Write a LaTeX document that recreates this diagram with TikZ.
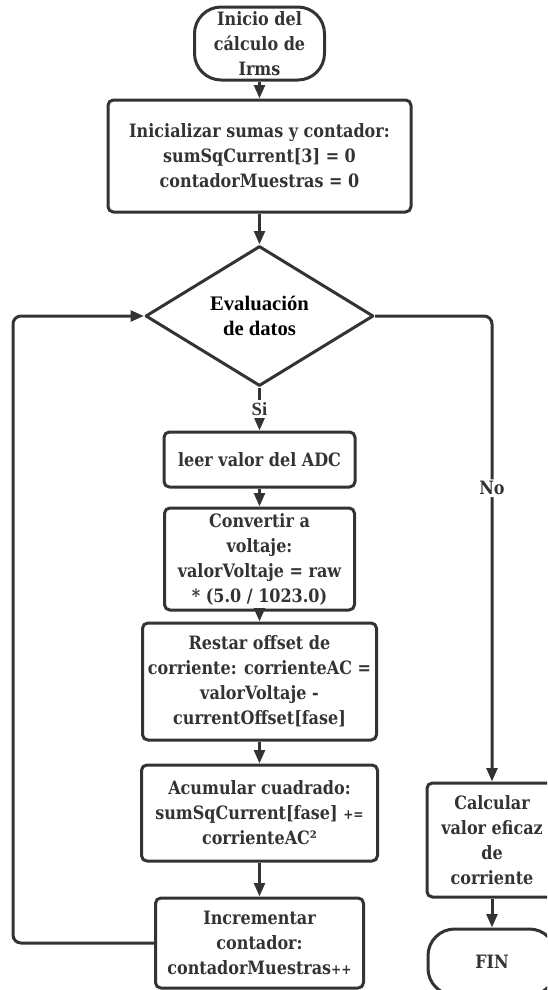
\documentclass[tikz,border=0pt]{standalone}
\usepackage{fontspec}
\setmainfont{DejaVu Serif}[FakeStretch=0.87]
\newfontfamily\timesfam{Liberation Serif}
\usetikzlibrary{arrows.meta,shapes.geometric}
\definecolor{ink}{HTML}{333333}
\newcommand\pxl{0.75pt}
\newcommand\smallop[1]{{\fontsize{10.5}{18.75}\selectfont #1}}

\begin{document}
\begin{tikzpicture}[x=0.75pt,y=-0.75pt,
  every node/.style={font=\bfseries\fontsize{13.8}{18.75}\selectfont, text=ink},
  procbox/.style={draw=ink, line width=2.25pt, rounded corners=4pt, align=center,
                  inner sep=0pt, fill=white, line join=round},
  termbox/.style={draw=ink, line width=2.25pt, rounded corners=20pt, align=center,
                  inner sep=0pt, fill=white},
  decision/.style={draw=ink, line width=2.25pt, shape=diamond, aspect=1.6, align=center,
                   inner sep=0pt, line join=round, fill=white,
                   font=\timesfam\bfseries\fontsize{15.5}{18.75}\selectfont, text=black},
  flow/.style={draw=ink, line width=2.25pt, -{Triangle[length=10pt,width=8pt]}},
  branchlabel/.style={fill=white, inner sep=1.5pt}
]
\useasboundingbox (0,0) rectangle (547,990);
\clip (0,0) rectangle (547,990);

% main column
\node[termbox, minimum width=130*\pxl, minimum height=73*\pxl] (start) at (259.5,43.5)
  {Inicio del\\cálculo de\\Irms};
\node[procbox, minimum width=303*\pxl, minimum height=112*\pxl] (init) at (259.5,156)
  {Inicializar sumas y contador:\\sumSqCurrent[3] = 0\\contadorMuestras = 0};
\node[decision, minimum width=228*\pxl, minimum height=140*\pxl] (eval) at (259.5,316)
  {Evaluación\\de datos};
\node[procbox, minimum width=191*\pxl, minimum height=55*\pxl] (leer) at (259.5,459.5)
  {leer valor del ADC};
\node[procbox, minimum width=190*\pxl, minimum height=102*\pxl] (conv) at (259.5,559)
  {Convertir a\\voltaje:\\valorVoltaje = raw\\* (5.0 / 1023.0)};
\node[procbox, minimum width=234*\pxl, minimum height=117*\pxl] (rest) at (259.5,681.5)
  {Restar offset de\\corriente: corrienteAC =\\valorVoltaje -\\currentOffset[fase]};
\node[procbox, minimum width=236*\pxl, minimum height=96*\pxl] (acum) at (259.5,813)
  {Acumular cuadrado:\\sumSqCurrent[fase] \smallop{+=}\\corrienteAC²};
\node[procbox, minimum width=208*\pxl, minimum height=90*\pxl] (incr) at (259.5,943)
  {Incrementar\\contador:\\contadorMuestras\smallop{++}};

% right column
\node[procbox, minimum width=130*\pxl, minimum height=114*\pxl] (calc) at (492,840)
  {Calcular\\valor eficaz\\de\\corriente};
\node[termbox, minimum width=128*\pxl, minimum height=66*\pxl] (fin) at (492,962)
  {FIN};

% loop corners
\coordinate (loopL) at (13,316);
\coordinate (noR) at (492,316);

% connectors
\draw[flow] (start) -- (init);
\draw[flow] (init) -- (eval);
\draw[flow] (eval.south) -- node[branchlabel, font=\timesfam\bfseries\fontsize{14}{16}\selectfont]{Si} (leer.north);
\draw[flow] (leer) -- (conv);
\draw[flow] (conv) -- (rest);
\draw[flow] (rest) -- (acum);
\draw[flow] (acum) -- (incr);
\draw[flow, rounded corners=6pt] (incr.west) -- (incr.west -| loopL) -- (loopL) -- (eval.west);
\draw[flow, rounded corners=6pt] (eval.east) -- (noR) -- node[branchlabel, pos=0.37]{No} (calc.north);
\draw[flow] (calc) -- (fin);
\end{tikzpicture}
\end{document}
